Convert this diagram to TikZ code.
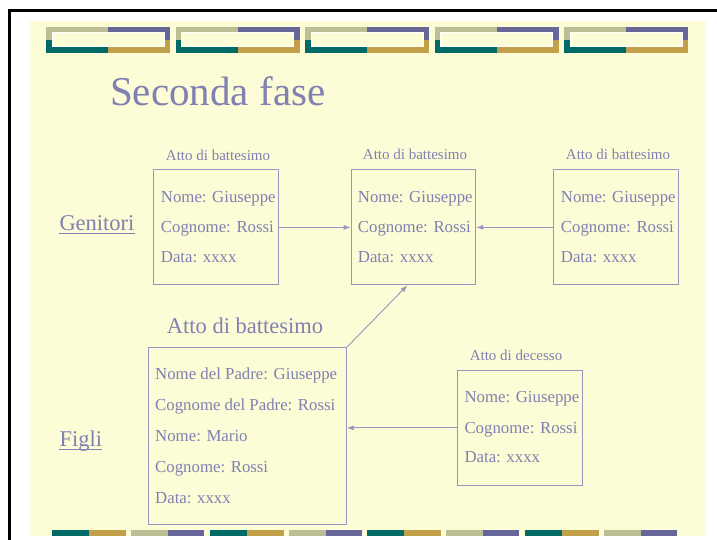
\documentclass[tikz,border=0pt]{standalone}
\usepackage{fontspec}
\setmainfont{Liberation Serif}
\usetikzlibrary{arrows.meta}
\definecolor{bgyellow}{RGB}{252,252,214}
\definecolor{ckhaki}{RGB}{187,191,147}
\definecolor{cpurp}{RGB}{103,102,153}
\definecolor{cteal}{RGB}{0,107,102}
\definecolor{cgold}{RGB}{194,160,74}
\definecolor{txt}{RGB}{128,128,178}
\definecolor{linec}{RGB}{150,150,192}
\begin{document}
\begin{tikzpicture}[x=1pt,y=-1pt,
  box/.style={draw=linec, line width=1pt, inner sep=0pt, anchor=north west,
              minimum width=124.4pt, minimum height=114.8pt},
  bigbox/.style={box, minimum width=197.4pt, minimum height=177pt},
  txtline/.style={text=txt, font=\fontsize{16.8}{20}\selectfont, anchor=base west, inner sep=0pt},
  lab/.style={text=txt, font=\fontsize{15}{18}\selectfont, anchor=base, inner sep=0pt},
  biglab/.style={text=txt, font=\fontsize{22.5}{26}\selectfont, anchor=base west, inner sep=0pt},
  arr/.style={draw=linec, line width=0.9pt, -{Latex[length=7pt,width=5pt]}},
  uline/.style={draw=txt, line width=1.3pt}]
\useasboundingbox (0,0) rectangle (717,540);
% background and frame
\fill[white] (0,0) rectangle (717,540);
\fill[bgyellow] (30,21) rectangle (706,536);
\fill[black] (8,9) rectangle (717,11.7);
\fill[black] (8,9) rectangle (11,540);
% top decoration
\foreach \k in {0,...,4} {
  \pgfmathsetmacro\bx{46+129.5*\k}
  \fill[ckhaki] (\bx,27) rectangle ++(62,13);
  \fill[cpurp] (\bx+62,27) rectangle ++(62,13);
  \fill[cteal] (\bx,40) rectangle ++(62,13);
  \fill[cgold] (\bx+62,40) rectangle ++(62,13);
  \filldraw[fill=bgyellow, draw=white, line width=1pt] (\bx+6,33) rectangle (\bx+118,47);
}
% bottom decoration
\foreach \k in {0,2,4,6} {
  \pgfmathsetmacro\bx{52+78.86*\k}
  \fill[cteal] (\bx,530) rectangle ++(37,6);
  \fill[cgold] (\bx+37,530) rectangle ++(37,6);
}
\foreach \k in {1,3,5,7} {
  \pgfmathsetmacro\bx{52+78.86*\k}
  \fill[ckhaki] (\bx,530) rectangle ++(37,6);
  \fill[cpurp] (\bx+37,530) rectangle ++(36,6);
}
% title
\node[anchor=base west, text=txt, font=\fontsize{41}{41}\selectfont, inner sep=0pt] (title) at (110,105.5) {Seconda fase};
% side labels
\node[biglab] (gen) at (59.3,230.5) {Genitori};
\draw[uline] ([yshift=-2.7pt]gen.base west) -- ([yshift=-2.7pt]gen.base east);
\node[biglab] (figli) at (59.3,446.2) {Figli};
\draw[uline] ([yshift=-3.3pt]figli.base west) -- ([yshift=-3.3pt]figli.base east);
% box A
\node[box] (A) at (153.3,169.5) {};
\node[lab] (Alab) at (218,160.5) {Atto di battesimo};
\node[txtline] (A1) at (160.7,202.2) {Nome: Giuseppe};
\node[txtline] (A2) at (160.7,232.2) {Cognome: Rossi};
\node[txtline] (A3) at (160.7,262.5) {Data: xxxx};
% box B
\node[box] (B) at (350.7,169.5) {};
\node[lab] (Blab) at (415,160) {Atto di battesimo};
\node[txtline] (B1) at (357.7,202.2) {Nome: Giuseppe};
\node[txtline] (B2) at (357.7,232.2) {Cognome: Rossi};
\node[txtline] (B3) at (357.7,262.8) {Data: xxxx};
% box C
\node[box] (C) at (553.3,169.5) {};
\node[lab] (Clab) at (618,160) {Atto di battesimo};
\node[txtline] (C1) at (560.7,202.2) {Nome: Giuseppe};
\node[txtline] (C2) at (560.7,232.2) {Cognome: Rossi};
\node[txtline] (C3) at (560.7,262.8) {Data: xxxx};
% box D
\node[bigbox] (D) at (148.3,347.3) {};
\node[biglab] (Dlab) at (166.7,333.2) {Atto di battesimo};
\node[txtline] (D1) at (155,379.8) {Nome del Padre: Giuseppe};
\node[txtline] (D2) at (155,410.5) {Cognome del Padre: Rossi};
\node[txtline] (D3) at (155,441.2) {Nome: Mario};
\node[txtline] (D4) at (155,472.2) {Cognome: Rossi};
\node[txtline] (D5) at (155,503.2) {Data: xxxx};
% box E
\node[box] (E) at (457.3,370) {};
\node[lab] (Elab) at (516,360) {Atto di decesso};
\node[txtline] (E1) at (464.3,402.2) {Nome: Giuseppe};
\node[txtline] (E2) at (464.3,433.2) {Cognome: Rossi};
\node[txtline] (E3) at (464.3,462.8) {Data: xxxx};
% connectors
\draw[arr] (A.east) -- (B.west);
\draw[arr] (C.west) -- (B.east);
\draw[arr] (E.west) -- (E.west -| D.east);
\draw[arr] (D.north east) -- ([xshift=-6pt]B.south);
\end{tikzpicture}
\end{document}
